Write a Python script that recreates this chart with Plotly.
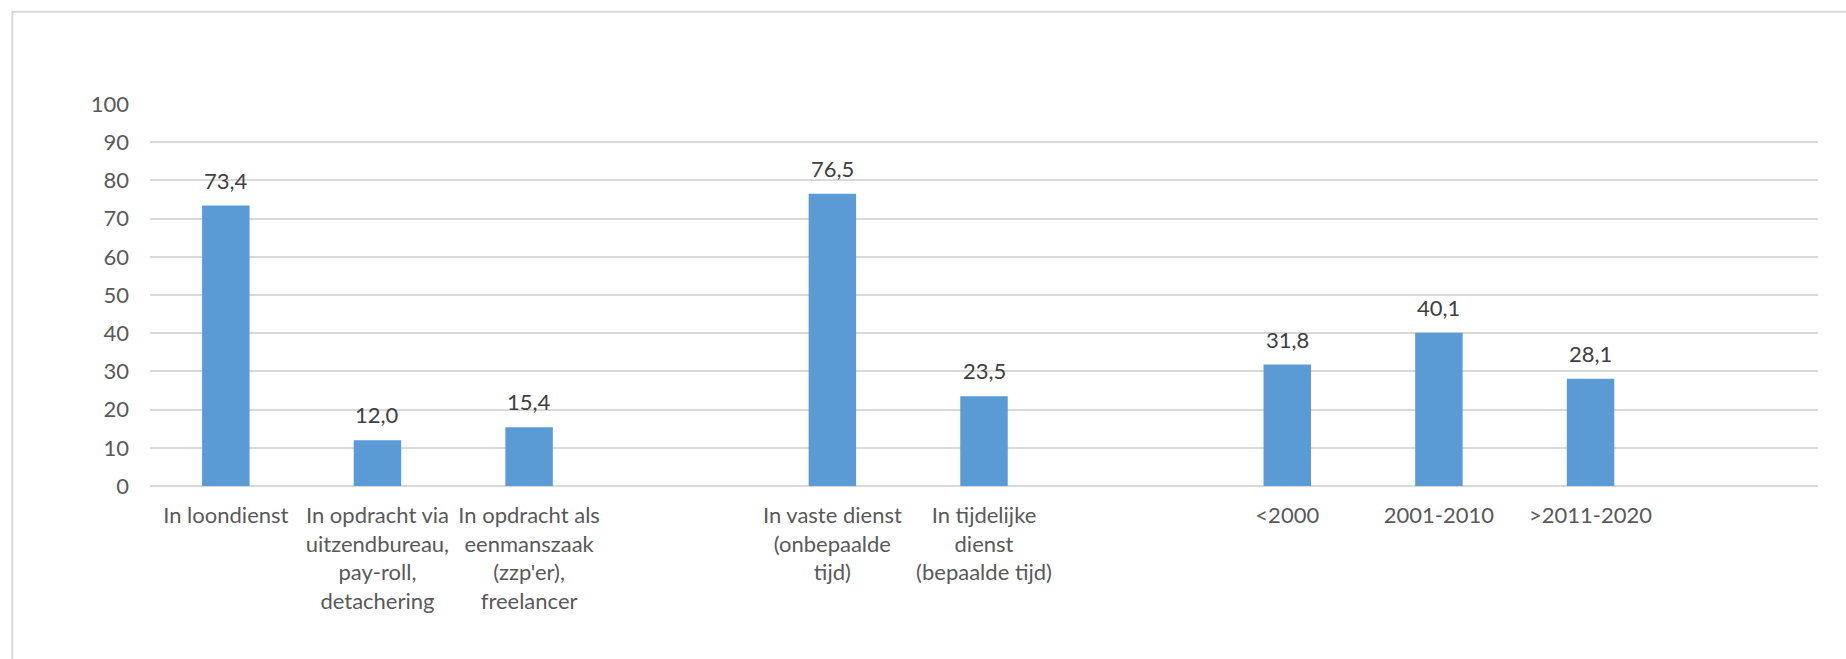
import plotly.graph_objects as go

# Categories (empty slots separate the three groups)
categories = [
    "In loondienst",
    "In opdracht via<br>uitzendbureau,<br>pay-roll,<br>detachering",
    "In opdracht als<br>eenmanszaak<br>(zzp'er),<br>freelancer",
    " ",
    "In vaste dienst<br>(onbepaalde<br>tijd)",
    "In tijdelijke<br>dienst<br>(bepaalde tijd)",
    "  ",
    "&lt;2000",
    "2001-2010",
    "&gt;2011-2020",
    "   ",
]
values = [73.4, 12.0, 15.4, None, 76.5, 23.5, None, 31.8, 40.1, 28.1, None]
y_ticks = [0, 10, 20, 30, 40, 50, 60, 70, 80, 90, 100]

BAR_COLOR = "#5B9BD5"
GRID_COLOR = "#D9D9D9"
FONT = "Lato, Calibri, Carlito, sans-serif"

fig = go.Figure(
    go.Bar(
        x=categories,
        y=values,
        marker=dict(color=BAR_COLOR, line=dict(width=0)),
        hoverinfo="skip",
    )
)

# Value labels above each bar (Dutch decimal comma)
for cat, v in zip(categories, values):
    if v is None:
        continue
    fig.add_annotation(
        x=cat, y=v, xref="x", yref="y",
        text=f"{v:.1f}".replace(".", ","),
        showarrow=False, yanchor="bottom", yshift=10,
        font=dict(family=FONT, size=22, color="#404040"),
    )

# Light chart-area frame
fig.add_shape(
    type="rect", xref="paper", yref="paper",
    x0=-0.0825, x1=1.2, y0=-0.8, y1=1.2415,
    line=dict(color=GRID_COLOR, width=2), fillcolor="rgba(0,0,0,0)",
    layer="below",
)

fig.update_layout(
    width=1846, height=659,
    margin=dict(l=150, r=28, t=104, b=173, pad=0),
    paper_bgcolor="white", plot_bgcolor="white",
    bargap=0.687,
    showlegend=False,
    font=dict(family=FONT, size=22, color="#595959"),
)
fig.update_xaxes(
    type="category",
    categoryorder="array", categoryarray=categories,
    showgrid=False, showline=False, ticks="",
    tickfont=dict(family=FONT, size=22, color="#595959"),
    tickangle=0,
    ticklabelstandoff=14,
)
fig.update_yaxes(
    range=[0, 100], tickvals=y_ticks,
    showgrid=True, gridcolor=GRID_COLOR, gridwidth=1.5,
    zeroline=True, zerolinecolor=GRID_COLOR, zerolinewidth=1.5,
    showline=False, ticks="",
    tickfont=dict(family=FONT, size=22, color="#595959"),
    ticklabelstandoff=20,
)

fig.write_html("out.html")
